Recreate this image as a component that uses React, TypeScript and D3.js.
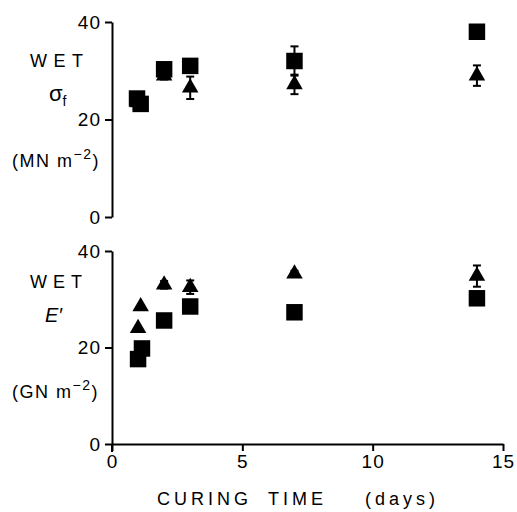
import React, { useEffect, useRef } from 'react';
import * as d3 from 'd3';

// curing time (days) and values
const sigmaSquareDays = [0.96, 1.1, 2, 3, 7, 14];
const sigmaSquareValues = [24.3, 23.2, 30.3, 31, 32, 38];
const sigmaSquareErr = [0, 0, 0, 0, 3, 0];
const sigmaTriangleDays = [1, 1.1, 2, 3, 7, 14];
const sigmaTriangleValues = [23.5, 23, 29, 26.5, 27.2, 29];
const sigmaTriangleErr = [0, 0, 0.8, 2.3, 2, 2.1];

const modSquareDays = [1, 1.15, 2, 3, 7, 14];
const modSquareValues = [17.6, 19.8, 25.6, 28.5, 27.3, 30.2];
const modSquareErr = [0, 0, 0, 0, 0, 0];
const modTriangleDays = [1, 1.1, 2, 3, 7, 14];
const modTriangleValues = [24, 28.5, 33, 32.5, 35.3, 34.8];
const modTriangleErr = [0, 0, 0.8, 1.4, 0.6, 2.2];

const xTicks = [0, 5, 10, 15];
const yTicks = [0, 20, 40];
const xTitleWords = ['CURING', 'TIME', '(days)'];

const width = 517;
const height = 512;
const font = "'Liberation Sans', Arial, sans-serif";

const x = d3.scaleLinear().domain([0, 15]).range([112, 503]);
const yTop = d3.scaleLinear().domain([0, 40]).range([217, 22]);
const yBot = d3.scaleLinear().domain([0, 40]).range([444, 251]);

const squarePath = d3.symbol().type(d3.symbolSquare).size(272)();
const trianglePath = d3.symbol().type(d3.symbolTriangle).size(118)();

function Markers({ days, values, errs, y, shape }) {
  return (
    <g>
      {days.map((d, i) => {
        const cx = x(d);
        const cy = y(values[i]);
        const e = errs[i];
        return (
          <g key={i}>
            {e > 0 && (
              <g stroke="#000" strokeWidth={2}>
                <line x1={cx} x2={cx} y1={y(values[i] + e)} y2={y(values[i] - e)} />
                <line x1={cx - 4} x2={cx + 4} y1={y(values[i] + e)} y2={y(values[i] + e)} />
                <line x1={cx - 4} x2={cx + 4} y1={y(values[i] - e)} y2={y(values[i] - e)} />
              </g>
            )}
            <path
              d={shape === 'square' ? squarePath : trianglePath}
              transform={`translate(${cx},${cy})`}
              fill="#000"
            />
          </g>
        );
      })}
    </g>
  );
}

export default function App() {
  const topAxis = useRef(null);
  const botAxis = useRef(null);
  const xAxis = useRef(null);

  useEffect(() => {
    const style = (g) => {
      g.selectAll('path, line').attr('stroke', '#000').attr('stroke-width', 2);
      g.select('.domain').attr('fill', 'none');
      g.selectAll('text')
        .attr('fill', '#000')
        .style('font-family', font)
        .style('font-size', '19px')
        .style('letter-spacing', '1px');
    };
    const left = (s) =>
      d3.axisLeft(s).tickValues(yTicks).tickSize(7).tickSizeOuter(0).tickPadding(4);
    d3.select(topAxis.current).call(left(yTop)).call(style);
    d3.select(botAxis.current).call(left(yBot)).call(style);
    d3.select(xAxis.current)
      .call(d3.axisBottom(x).tickValues(xTicks).tickSize(7).tickSizeOuter(0).tickPadding(4))
      .call(style);
  }, []);

  const labelStyle = { fontFamily: font, fontSize: 18, fill: '#000' };
  const titleX = [157, 268, 365];

  return (
    <svg
      width={width}
      height={height}
      style={{ position: 'absolute', left: 0, top: 0, background: '#fff' }}
    >
      <g ref={topAxis} transform={`translate(${x(0)},0)`} />
      <g ref={botAxis} transform={`translate(${x(0)},0)`} />
      <g ref={xAxis} transform={`translate(0,${yBot(0)})`} />
      <line x1={x(0)} x2={x(0)} y1={yBot(0)} y2={yBot(0) + 8} stroke="#000" strokeWidth={2} />

      {/* top panel labels */}
      <text x={30} y={67} textLength={53} lengthAdjust="spacing" style={labelStyle}>WET</text>
      <text x={49} y={101} style={{ ...labelStyle, fontSize: 22 }}>
        σ<tspan fontSize={14} dy={5}>f</tspan>
      </text>
      <text x={12} y={167} style={{ ...labelStyle, letterSpacing: 1.5 }}>
        (MN m<tspan fontSize={14} dy={-8}>−2</tspan><tspan dy={8}>)</tspan>
      </text>

      {/* bottom panel labels */}
      <text x={30} y={288} textLength={52} lengthAdjust="spacing" style={labelStyle}>WET</text>
      <text x={45} y={322} style={{ ...labelStyle, fontStyle: 'italic', fontSize: 20 }}>E′</text>
      <text x={12} y={398} style={{ ...labelStyle, letterSpacing: 1.5 }}>
        (GN m<tspan fontSize={14} dy={-8}>−2</tspan><tspan dy={8}>)</tspan>
      </text>

      {xTitleWords.map((w, i) => (
        <text key={w} x={titleX[i]} y={505} style={{ ...labelStyle, letterSpacing: 4 }}>
          {w}
        </text>
      ))}

      <Markers days={sigmaTriangleDays} values={sigmaTriangleValues} errs={sigmaTriangleErr} y={yTop} shape="triangle" />
      <Markers days={sigmaSquareDays} values={sigmaSquareValues} errs={sigmaSquareErr} y={yTop} shape="square" />
      <Markers days={modTriangleDays} values={modTriangleValues} errs={modTriangleErr} y={yBot} shape="triangle" />
      <Markers days={modSquareDays} values={modSquareValues} errs={modSquareErr} y={yBot} shape="square" />
    </svg>
  );
}
